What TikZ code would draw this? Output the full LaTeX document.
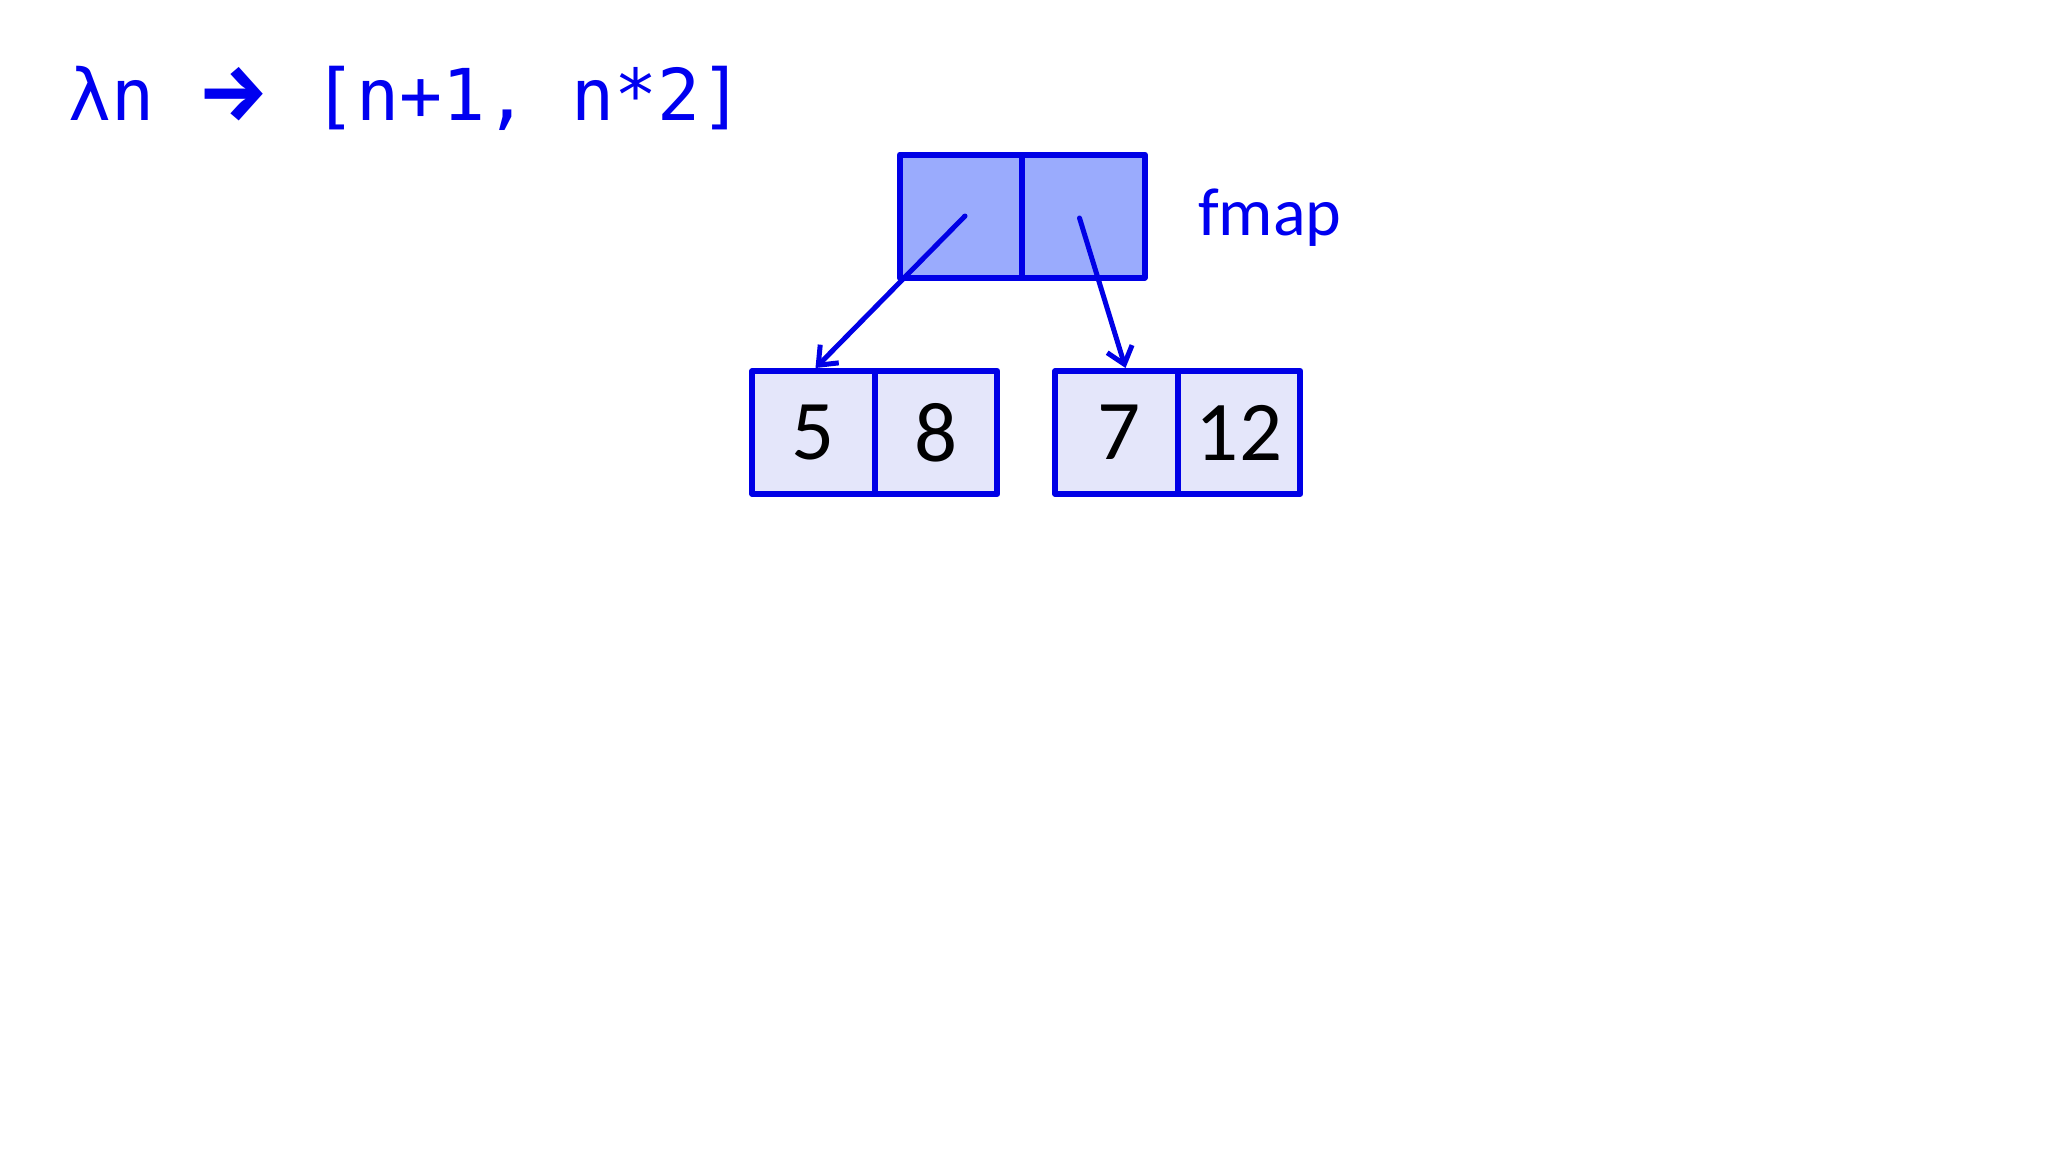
\documentclass[tikz,border=0pt]{standalone}
\usepackage{fontspec}
\setmainfont{Carlito}
\newfontfamily\codefont{DejaVu Sans Mono}
\newfontfamily\arrowfont{Fira Sans}
\usetikzlibrary{arrows.meta}
\definecolor{strokeblue}{HTML}{0000E6}
\definecolor{textblue}{HTML}{0000F0}
\definecolor{topfill}{HTML}{9AABFD}
\definecolor{lowfill}{HTML}{E4E6FA}
\tikzset{
  cell/.style={draw=strokeblue, line width=6pt, line join=round, minimum width=122.5pt, minimum height=123pt, inner sep=0pt, font=\fontsize{85}{90}\selectfont, text=black},
  topcell/.style={cell, fill=topfill},
  lowcell/.style={cell, fill=lowfill},
  ptr/.style={draw=strokeblue, line width=5pt, line cap=round, -{Straight Barb[length=16pt, width=26pt, line width=5pt]}}
}
\begin{document}
\begin{tikzpicture}[x=1pt, y=-1pt]
\useasboundingbox[fill=white] (0,0) rectangle (2048,1152);
% lambda expression
\node[anchor=base west, inner sep=0pt, text=textblue, font=\codefont\fontsize{71.5}{75}\selectfont] (lam) at (68,120) {\makebox[129pt][l]{λn}\makebox[116pt][l]{\arrowfont\bfseries\fontsize{80}{84}\selectfont →}[n+1, n*2]};
% top pair
\node[topcell] (tl) at (961,216) {};
\node[topcell] (tr) at (1083.5,216) {};
\node[anchor=base west, inner sep=0pt, text=textblue, font=\fontsize{68}{72}\selectfont] (fm) at (1198,235) {fmap};
% lower pairs
\node[lowcell] (a1) at (813.5,432.5) {5};
\node[lowcell] (a2) at (936,432.5) {8};
\node[lowcell] (b1) at (1116.5,432.5) {\hspace*{6pt}7};
\node[lowcell] (b2) at (1239,432.5) {12};
% pointers
\coordinate (s1) at ([xshift=4pt]tl.center);
\coordinate (s2) at ([xshift=-4pt,yshift=-2pt]tr.center);
\draw[ptr] (s1) -- ([xshift=2pt]a1.north);
\draw[ptr] (s2) -- ([xshift=9pt]b1.north);
\end{tikzpicture}
\end{document}
